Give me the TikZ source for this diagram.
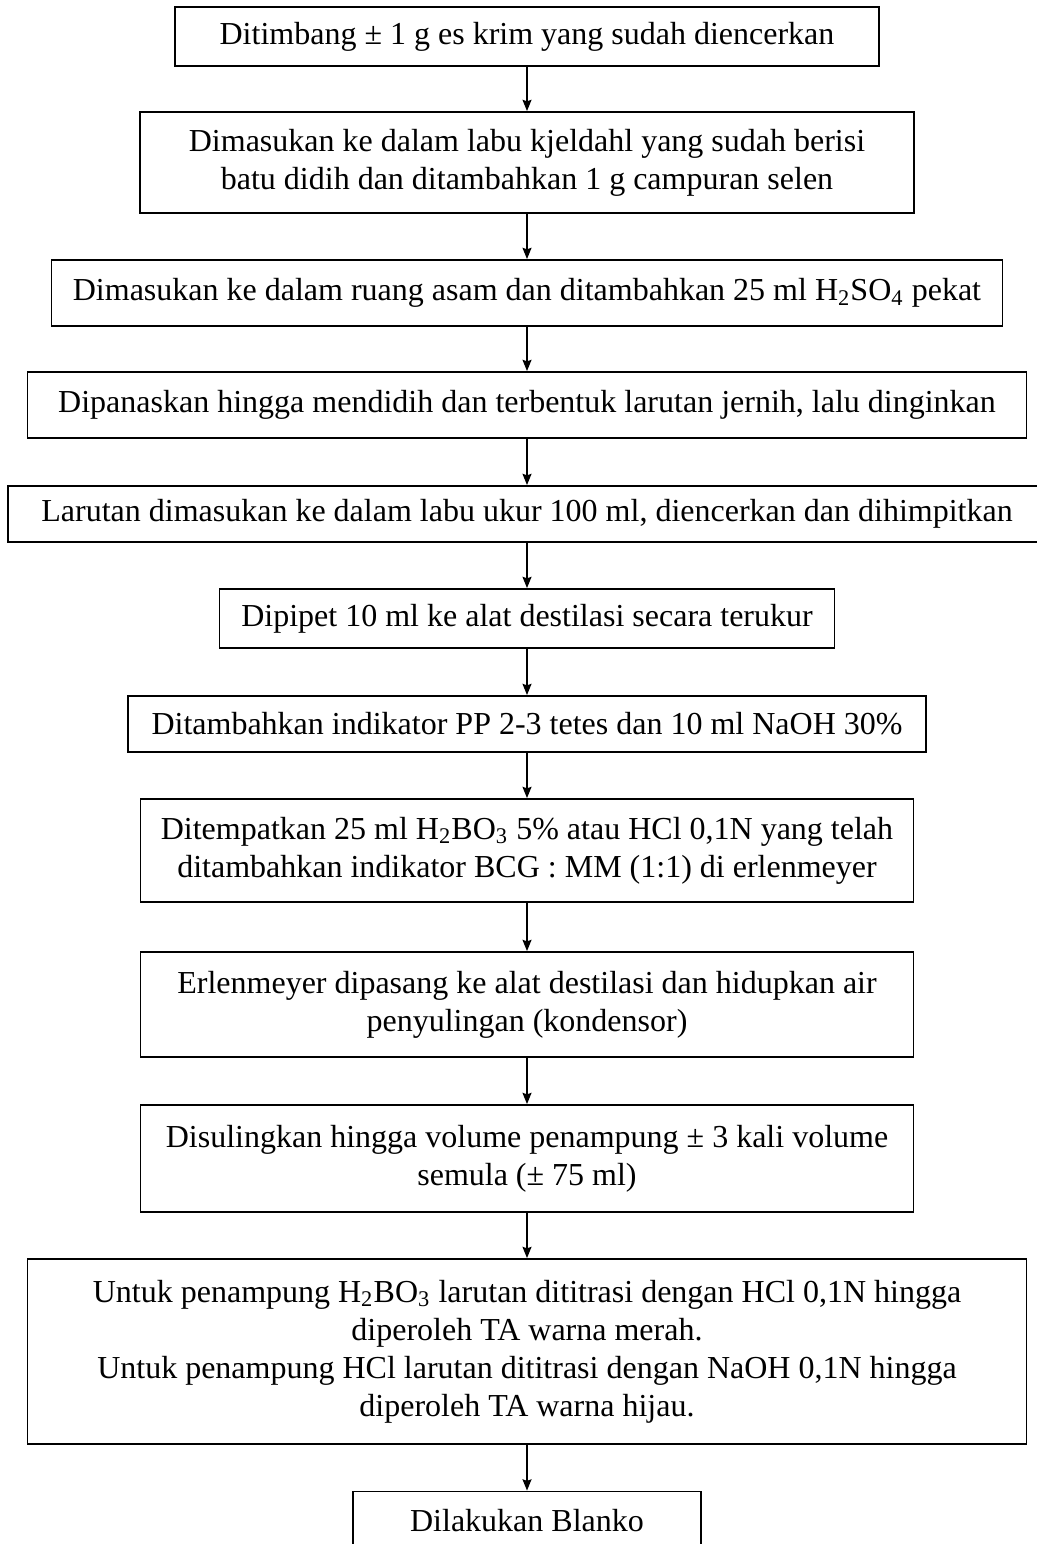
\documentclass[tikz,border=0pt]{standalone}
\usepackage{fontspec}
\setmainfont{Liberation Serif}
\usetikzlibrary{arrows.meta}
\begin{document}
\begin{tikzpicture}[x=0.4pt,y=-0.4pt,
    stepbox/.style={draw,line width=0.75pt,align=center,inner sep=0pt,
      font=\fontsize{12.8}{15.2}\selectfont},
    flow/.style={-{Stealth[length=4.5pt,width=3.6pt,inset=0.6pt]},line width=0.55pt}]
  \useasboundingbox (0,0) rectangle (1036,1544);
  \node[stepbox,minimum width=281.6pt,minimum height=23.6pt] (tim) at (527,36.5)
    {Ditimbang ± 1 g es krim yang sudah diencerkan};
  \node[stepbox,minimum width=309.6pt,minimum height=40.4pt] (labu) at (527,162.5)
    {Dimasukan ke dalam labu kjeldahl yang sudah berisi\\batu didih dan ditambahkan 1 g campuran selen};
  \node[stepbox,minimum width=380.4pt,minimum height=26.4pt] (asam) at (527,293)
    {Dimasukan ke dalam ruang asam dan ditambahkan 25 ml H\textsubscript{2}SO\textsubscript{4} pekat};
  \node[stepbox,minimum width=399.6pt,minimum height=26.4pt] (panas) at (527,405)
    {Dipanaskan hingga mendidih dan terbentuk larutan jernih, lalu dinginkan};
  \node[stepbox,minimum width=415.2pt,minimum height=22.4pt] (ukur) at (527,514)
    {Larutan dimasukan ke dalam labu ukur 100 ml, diencerkan dan dihimpitkan};
  \node[stepbox,minimum width=246pt,minimum height=23.6pt] (pipet) at (527,618.5)
    {Dipipet 10 ml ke alat destilasi secara terukur};
  \node[stepbox,minimum width=319.2pt,minimum height=22.4pt] (naoh) at (527,724)
    {Ditambahkan indikator PP 2-3 tetes dan 10 ml NaOH 30\%};
  \node[stepbox,minimum width=309.2pt,minimum height=41.2pt] (tampung) at (527,850.5)
    {Ditempatkan 25 ml H\textsubscript{2}BO\textsubscript{3} 5\% atau HCl 0,1N yang telah\\ditambahkan indikator BCG : MM (1:1) di erlenmeyer};
  \node[stepbox,minimum width=309.2pt,minimum height=42pt] (pasang) at (527,1004.5)
    {Erlenmeyer dipasang ke alat destilasi dan hidupkan air\\penyulingan (kondensor)};
  \node[stepbox,minimum width=309.2pt,minimum height=42.8pt] (suling) at (527,1158.5)
    {Disulingkan hingga volume penampung ± 3 kali volume\\semula (± 75 ml)};
  \node[stepbox,minimum width=399.6pt,minimum height=74pt] (titrasi) at (527,1351.5)
    {Untuk penampung H\textsubscript{2}BO\textsubscript{3} larutan dititrasi dengan HCl 0,1N hingga\\diperoleh TA warna merah.\\Untuk penampung HCl larutan dititrasi dengan NaOH 0,1N hingga\\diperoleh TA warna hijau.};
  \node[stepbox,minimum width=139.2pt,minimum height=23.6pt] (blanko) at (527,1521)
    {Dilakukan Blanko};
  % arrows between the steps
  \draw[flow] (tim) -- (labu);
  \draw[flow] (labu) -- (asam);
  \draw[flow] (asam) -- (panas);
  \draw[flow] (panas) -- (ukur);
  \draw[flow] (ukur) -- (pipet);
  \draw[flow] (pipet) -- (naoh);
  \draw[flow] (naoh) -- (tampung);
  \draw[flow] (tampung) -- (pasang);
  \draw[flow] (pasang) -- (suling);
  \draw[flow] (suling) -- (titrasi);
  \draw[flow] (titrasi) -- (blanko);
\end{tikzpicture}
\end{document}
